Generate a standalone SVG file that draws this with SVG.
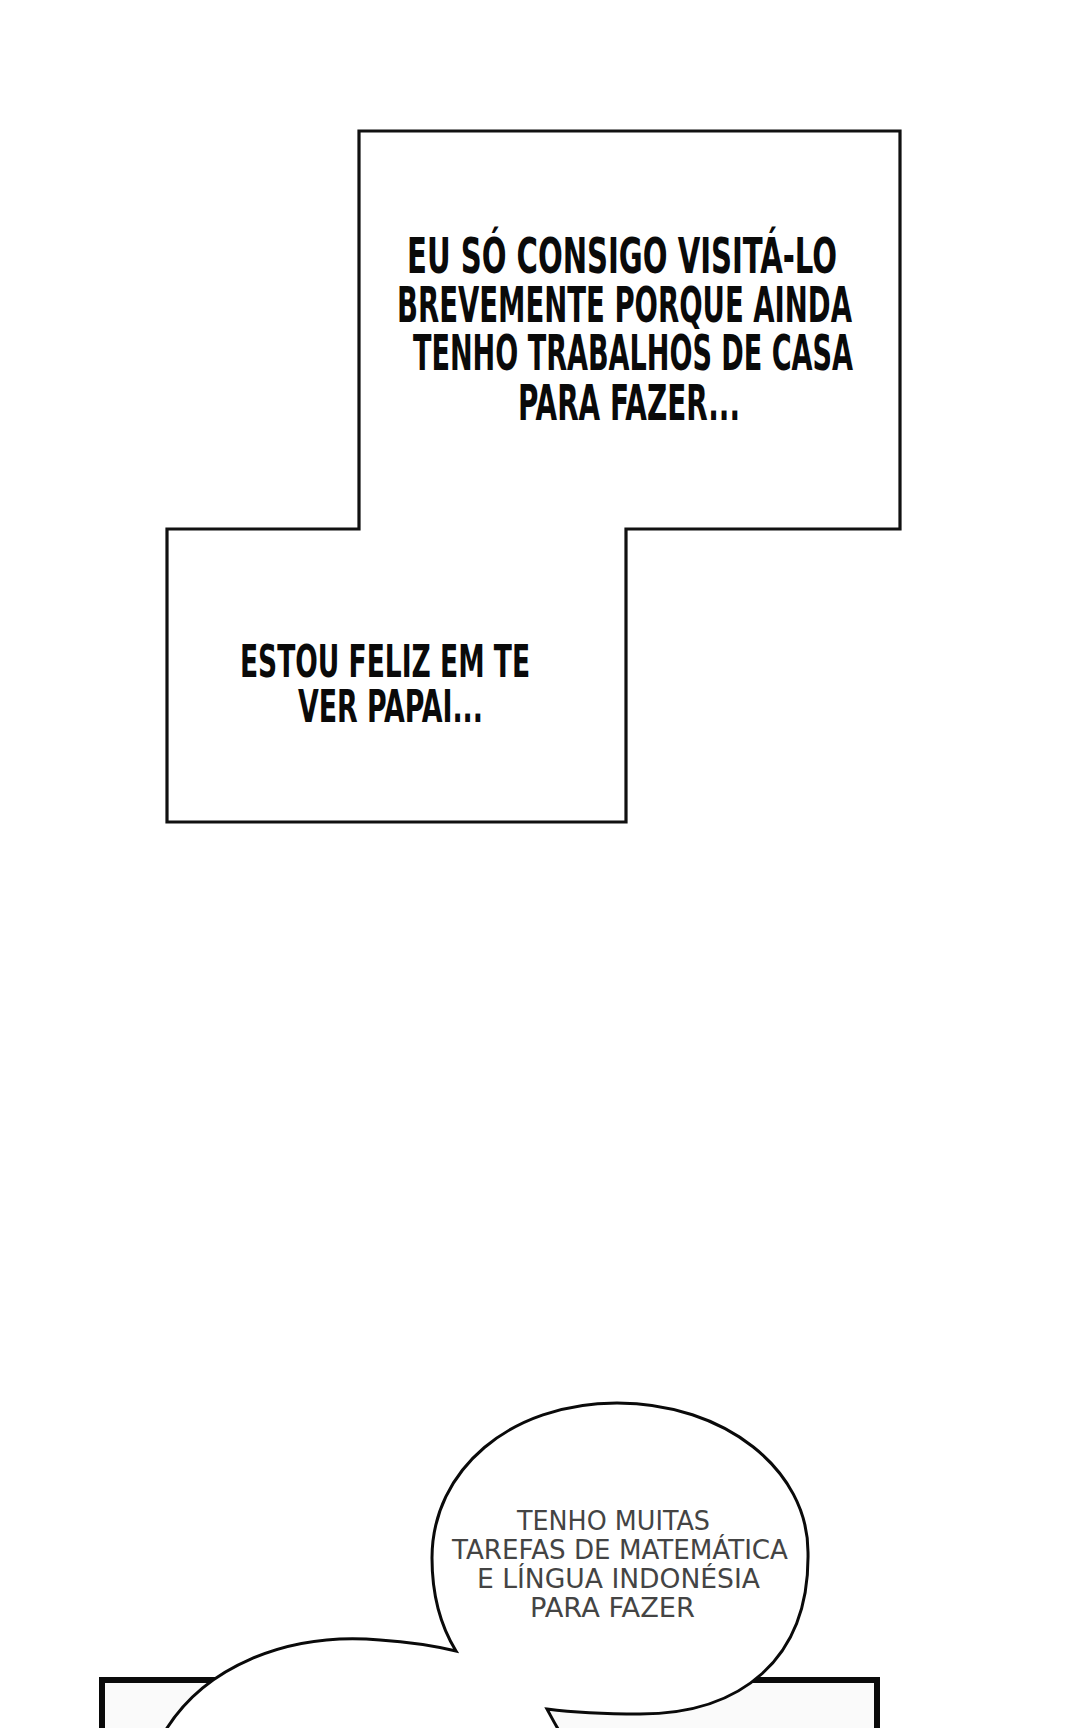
<svg xmlns="http://www.w3.org/2000/svg" width="1080" height="1728" viewBox="0 0 1080 1728">
<style>
.frame{fill:#ffffff;stroke:#111111;stroke-width:3.2;stroke-linejoin:miter}
.panel{fill:#fafafa;stroke:#0a0a0a;stroke-width:6}
.bubble{fill:#ffffff;stroke:#0a0a0a;stroke-width:3}
.cap{font-family:"Liberation Sans Narrow","DejaVu Sans Condensed","Liberation Sans",sans-serif;font-weight:bold;fill:#0a0a0a}
.bt{font-family:"DejaVu Sans","Liberation Sans",sans-serif;font-weight:normal;fill:#444444;font-size:27px}
</style>
<rect width="1080" height="1728" fill="#ffffff"/>
<g id="caption-box">
<path class="frame" d="M359,131 L900,131 L900,529 L626,529 L626,822 L167,822 L167,529 L359,529 Z"/>
<g class="cap" font-size="49">
<text x="407" y="273" textLength="430" lengthAdjust="spacingAndGlyphs">EU SÓ CONSIGO VISITÁ-LO</text>
<text x="397" y="322" textLength="455" lengthAdjust="spacingAndGlyphs">BREVEMENTE PORQUE AINDA</text>
<text x="413" y="370" textLength="440" lengthAdjust="spacingAndGlyphs">TENHO TRABALHOS DE CASA</text>
<text x="518" y="420" textLength="222" lengthAdjust="spacingAndGlyphs">PARA FAZER...</text>
</g>
<g class="cap" font-size="45">
<text x="240" y="677" textLength="290" lengthAdjust="spacingAndGlyphs">ESTOU FELIZ EM TE</text>
<text x="298" y="722" textLength="185" lengthAdjust="spacingAndGlyphs">VER PAPAI...</text>
</g>
</g>
<g id="panel">
<path class="panel" d="M102,1745 L102,1680 L877,1680 L877,1745 Z"/>
</g>
<g id="speech-bubble">
<path class="bubble" d="M160,1740 C200,1665 290,1632 380,1640 C410,1642 435,1646 456,1651 C440,1625 432,1595 432,1558 C432,1470 510,1403 617,1403 C725,1403 808,1470 808,1552 C810,1660 740,1714 640,1714 C600,1714 570,1712 547,1709 C553,1720 558,1730 565,1740 Z"/>
<text class="bt" x="517" y="1530" textLength="193" lengthAdjust="spacingAndGlyphs">TENHO MUITAS</text>
<text class="bt" x="452" y="1559" textLength="336" lengthAdjust="spacingAndGlyphs">TAREFAS DE MATEMÁTICA</text>
<text class="bt" x="477" y="1588" textLength="283" lengthAdjust="spacingAndGlyphs">E LÍNGUA INDONÉSIA</text>
<text class="bt" x="530" y="1617" textLength="165" lengthAdjust="spacingAndGlyphs">PARA FAZER</text>
</g>
<g id="connectors"></g>
</svg>
